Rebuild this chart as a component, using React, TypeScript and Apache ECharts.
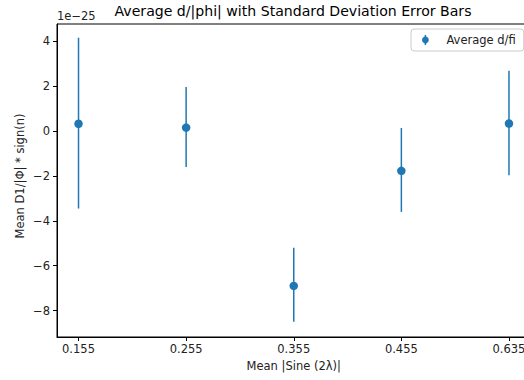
import React, { useEffect, useRef } from "react";
import * as echarts from "echarts";

// x categories (tick labels), evenly spaced
const xLabels = ["0.155", "0.255", "0.355", "0.455", "0.635"];
// values in units of 1e-25
const means = [0.33, 0.16, -6.9, -1.77, 0.34];
const lows = [-3.45, -1.6, -8.5, -3.6, -1.97];
const highs = [4.17, 1.97, -5.2, 0.14, 2.7];
const yTicks = [-8, -6, -4, -2, 0, 2, 4];
const offsetLabel = "1e\u221225";

const BLUE = "#1f77b4";
const FONT = "DejaVu Sans";

export default function App() {
  const ref = useRef<HTMLDivElement>(null);
  useEffect(() => {
    if (!ref.current) return;
    const chart = echarts.init(ref.current, null, { renderer: "svg" });
    const idx = xLabels.map((_, i) => i);
    chart.setOption({
      animation: false,
      textStyle: { fontFamily: FONT },
      grid: {
        left: 57,
        top: 24,
        right: 9.5,
        bottom: 43,
        show: true,
        borderColor: "#000",
        borderWidth: 1,
        backgroundColor: "transparent",
      },
      xAxis: {
        type: "value",
        min: -0.2,
        max: 4.2,
        splitLine: { show: false },
        axisLine: { show: true, onZero: false, lineStyle: { color: "#000", width: 1 } },
        axisTick: { show: true, length: 4, lineStyle: { color: "#000" }, customValues: idx },
        axisLabel: {
          customValues: idx,
          color: "#222",
          fontSize: 11.5,
          fontFamily: FONT,
          margin: 6,
          formatter: (v: number) => xLabels[Math.round(v)] ?? "",
        },
        name: "Mean |Sine (2\u03bb)|",
        nameLocation: "middle",
        nameGap: 23,
        nameTextStyle: { color: "#222", fontSize: 11.5, fontFamily: FONT },
      },
      yAxis: {
        type: "value",
        min: -9.18,
        max: 4.78,
        splitLine: { show: false },
        axisLine: { show: true, onZero: false, lineStyle: { color: "#000", width: 1 } },
        axisTick: { show: true, length: 4, lineStyle: { color: "#000" }, customValues: yTicks },
        axisLabel: {
          customValues: yTicks,
          color: "#222",
          fontSize: 11.5,
          fontFamily: FONT,
          margin: 7,
          formatter: (v: number) => (v < 0 ? "\u2212" + Math.abs(v) : String(v)),
        },
      },
      legend: {
        left: 411,
        top: 29,
        padding: [5, 8, 5, 11],
        backgroundColor: "rgba(255,255,255,0.8)",
        borderColor: "#cccccc",
        borderWidth: 1,
        borderRadius: 3,
        itemWidth: 12,
        itemHeight: 10,
        textStyle: { color: "#222", fontSize: 11.5, fontFamily: FONT, padding: [0, 0, 0, 10] },
        data: [
          {
            name: "Average d/fi",
            icon: "path://M4.25,0 L5.75,0 L5.75,1.6 A3.5,3.5 0 0 1 5.75,8.4 L5.75,10 L4.25,10 L4.25,8.4 A3.5,3.5 0 0 1 4.25,1.6 Z",
            itemStyle: { color: BLUE },
          },
        ],
      },
      graphic: [
        {
          type: "text",
          x: 293,
          y: 10.5,
          style: {
            text: "Average d/|phi| with Standard Deviation Error Bars",
            fontSize: 14.1,
            fontFamily: FONT,
            fill: "#000",
            align: "center",
            verticalAlign: "middle",
          },
        },
        {
          type: "text",
          x: 57,
          y: 16,
          style: {
            text: offsetLabel,
            fontSize: 11.5,
            fontFamily: FONT,
            fill: "#222",
            align: "left",
            verticalAlign: "middle",
          },
        },
        {
          type: "text",
          x: 20,
          y: 176,
          rotation: Math.PI / 2,
          style: {
            text: "Mean D1/|\u03a6| * sign(n)",
            fontSize: 11.5,
            fontFamily: FONT,
            fill: "#222",
            align: "center",
            verticalAlign: "middle",
          },
        },
      ],
      series: [
        {
          name: "Average d/fi",
          type: "custom",
          data: idx.map((i) => [i, lows[i], highs[i]]),
          renderItem: (params: any, api: any) => {
            const x = api.value(0);
            const p1 = api.coord([x, api.value(1)]);
            const p2 = api.coord([x, api.value(2)]);
            return {
              type: "line",
              shape: { x1: p1[0], y1: p1[1], x2: p2[0], y2: p2[1] },
              style: { stroke: BLUE, lineWidth: 1.5 },
            };
          },
          z: 2,
        },
        {
          name: "Average d/fi",
          type: "scatter",
          data: idx.map((i) => [i, means[i]]),
          symbol: "circle",
          symbolSize: 8.5,
          itemStyle: { color: BLUE, opacity: 1 },
          z: 3,
        },
      ],
    });
    return () => chart.dispose();
  }, []);
  return (
    <div style={{ position: "fixed", left: 0, top: 0, width: 524, height: 380, overflow: "hidden", background: "#fff" }}>
      <div ref={ref} style={{ width: 540, height: 380 }} />
    </div>
  );
}
